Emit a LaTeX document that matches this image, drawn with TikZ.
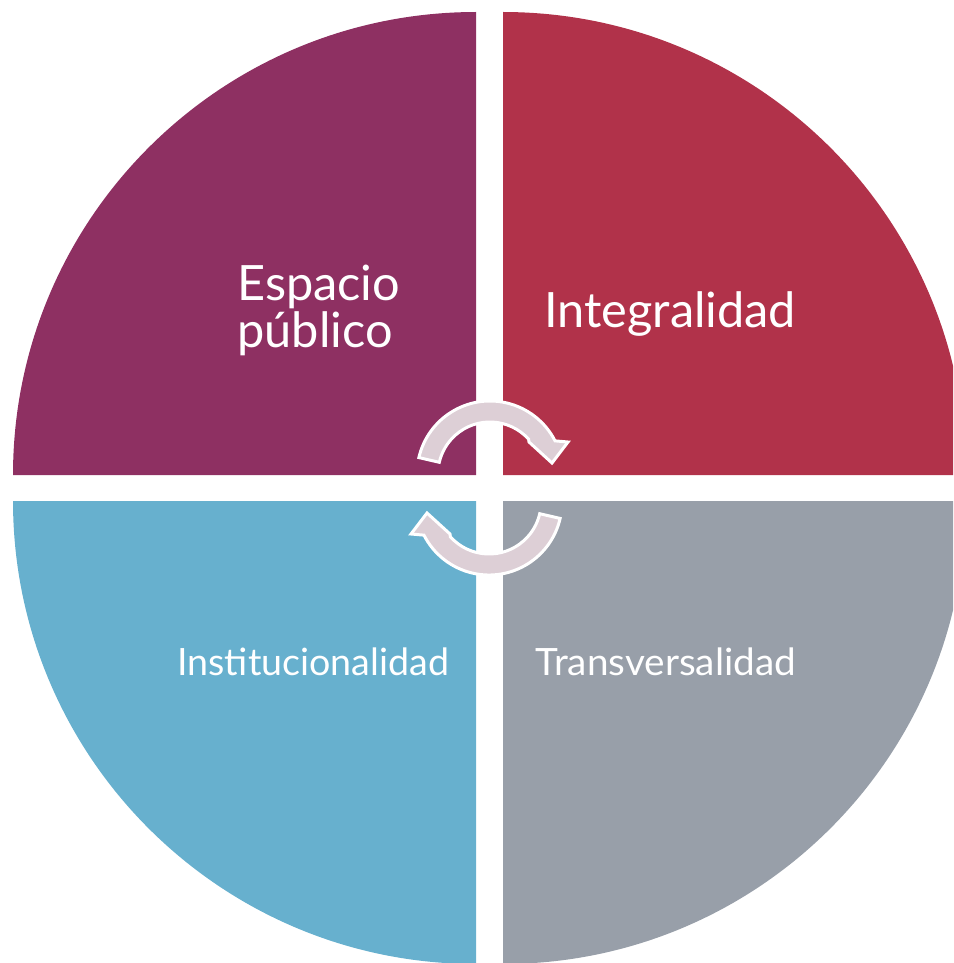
\documentclass[tikz,border=0pt]{standalone}
\usepackage{fontspec}
\setmainfont{Lato}
\usetikzlibrary{positioning}

\definecolor{espacio}{HTML}{8E3062}
\definecolor{integral}{HTML}{B1324A}
\definecolor{institu}{HTML}{67B0CE}
\definecolor{transv}{HTML}{989FA9}
\definecolor{giro}{HTML}{DDCFD6}

\begin{document}
\begin{tikzpicture}[x=0.02cm, y=-0.02cm,
  txt/.style={text=white, inner sep=0pt, align=left},
  big/.style={font=\fontsize{27.7}{26.6}\selectfont},
  small/.style={font=\fontsize{21.4}{24}\selectfont},
  cyc/.style={fill=giro, draw=white, line width=1.7pt, line join=miter}]

\useasboundingbox (0,0) rectangle (953,963);
\clip (0,0) rectangle (953,963);

% quadrants
\fill[espacio]  (476,475) -- (13,475)  arc[start angle=180, end angle=270, radius=463] -- cycle;
\fill[integral] (503,475) -- (503,12)  arc[start angle=270, end angle=360, radius=463] -- cycle;
\fill[institu]  (476,501) -- (13,501)  arc[start angle=180, end angle=90,  radius=463] -- cycle;
\fill[transv]   (503,501) -- (966,501) arc[start angle=0,   end angle=90,  radius=463] -- cycle;

% arrows in the middle
\foreach \r in {0,180}
  \path[cyc, rotate around={\r:(489.5,488)}]
    (490,474) ++(193:73) arc[start angle=193, end angle=333, radius=73]
    -- (568,442) -- (552,463) -- (529,442) -- (528.6,439.2)
    arc[start angle=318, end angle=193, radius=52] -- cycle;

% texts
\node[txt, big, anchor=base west] (esp) at (237,347) {Espacio\\público};
\node[txt, big, anchor=base west] (int) at (544,327) {Integralidad};
\node[txt, small, anchor=base west] (ins) at (177,675) {Institucionalidad};
\node[txt, small, anchor=base west, xscale=1.03] (tra) at (535,675) {Transversalidad};

\end{tikzpicture}
\end{document}
